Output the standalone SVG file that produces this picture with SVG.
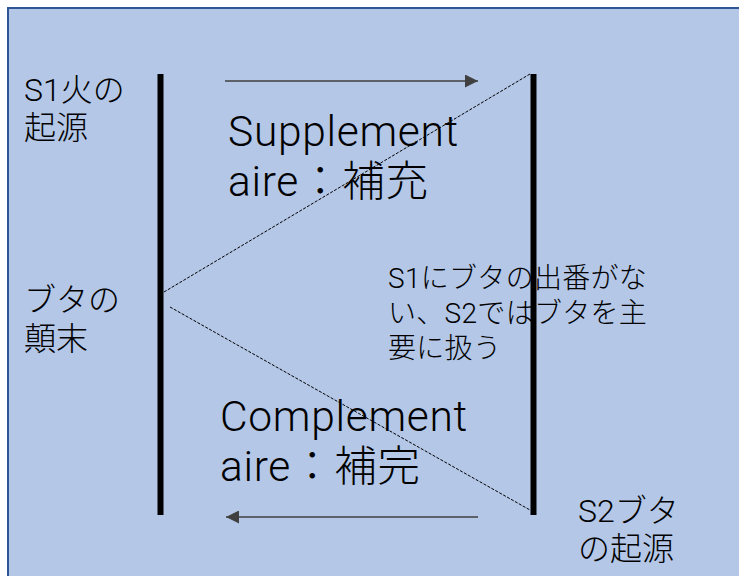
<svg xmlns="http://www.w3.org/2000/svg" width="739" height="576" viewBox="0 0 739 576">
<style>
.t{font-family:Roboto,"Noto Sans CJK JP",sans-serif;font-weight:300;fill:#000}
.lbl{font-size:32px}
.big{font-size:42.5px;letter-spacing:0.7px}
.mid{font-size:28px;letter-spacing:0.3px}
.bar{stroke:#000;stroke-width:6}
.dash{stroke:#000;stroke-width:1;stroke-dasharray:3 1.5;fill:none}
.arr{stroke:#404040;stroke-width:1.5;fill:none}
</style>
<defs>
<marker id="ah" viewBox="0 0 10 10" refX="10" refY="5" markerWidth="14" markerHeight="13" markerUnits="userSpaceOnUse" orient="auto">
<path d="M0,0 L10,5 L0,10 z" fill="#404040"/>
</marker>
</defs>
<rect x="8" y="8" width="740" height="580" fill="#b4c7e7" stroke="#2f5597" stroke-width="2"/>
<g id="bar-left"><line class="bar" x1="160.5" y1="74" x2="160.5" y2="515"/></g>
<g id="bar-right"><line class="bar" x1="533.5" y1="74" x2="533.5" y2="515"/></g>
<g id="connectors">
<line class="arr" x1="225" y1="81" x2="478" y2="81" marker-end="url(#ah)"/>
<line class="arr" x1="478" y1="517" x2="226" y2="517" marker-end="url(#ah)"/>
<line class="dash" x1="164" y1="292" x2="530" y2="74"/>
<line class="dash" x1="170" y1="307" x2="530" y2="510"/>
</g>
<g id="label-s1-fire">
<text class="t lbl" x="24" y="101">S1火の</text>
<text class="t lbl" x="24" y="139">起源</text>
</g>
<g id="label-buta-end">
<text class="t lbl" x="24" y="311">ブタの</text>
<text class="t lbl" x="24" y="350">顛末</text>
</g>
<g id="label-s2-buta">
<text class="t lbl" x="578" y="522">S2ブタ</text>
<text class="t lbl" x="578" y="560">の起源</text>
</g>
<g id="label-supplementaire">
<text class="t big" x="228" y="146">Supplement</text>
<text class="t big" x="228" y="196">aire：補充</text>
</g>
<g id="label-complementaire">
<text class="t big" x="220" y="431">Complement</text>
<text class="t big" x="220" y="481">aire：補完</text>
</g>
<g id="label-note">
<text class="t mid" x="388" y="288">S1にブタの出番がな</text>
<text class="t mid" x="388" y="323">い、S2ではブタを主</text>
<text class="t mid" x="388" y="358">要に扱う</text>
</g>
</svg>
